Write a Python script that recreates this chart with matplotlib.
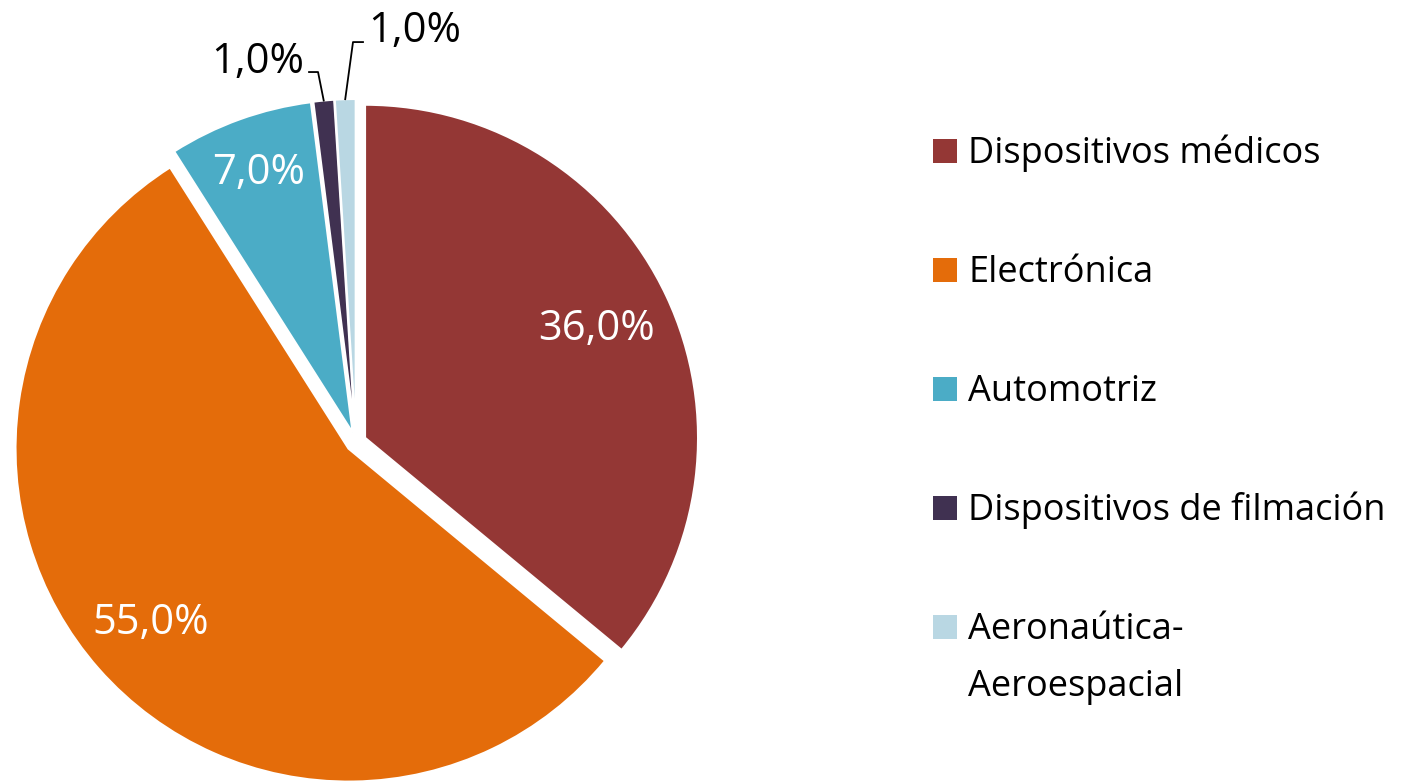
import numpy as np
import matplotlib
matplotlib.use("Agg")
import matplotlib.pyplot as plt
from matplotlib.patches import Rectangle

plt.rcParams['font.family'] = ['Open Sans', 'DejaVu Sans']

# ------------------------------------------------------------
# data
# ------------------------------------------------------------
categories = ['Dispositivos médicos', 'Electrónica', 'Automotriz',
              'Dispositivos de filmación', 'Aeronaútica-\nAeroespacial']
shares = [36.0, 55.0, 7.0, 1.0, 1.0]
colors = ['#943735', '#E46C0A', '#4BACC6', '#403151', '#B9D7E3']

# label distance (fraction of radius) for inside labels, None = outside label
label_dist = [0.77, 0.79, 0.83, None, None]
# outside labels: text position (baseline, data units with radius = 1)
# and the elbow of the leader line
outside_pos = {3: (-0.296, 1.108), 4: (0.177, 1.201)}
outside_elbow = {3: [(-0.114, 1.111), (-0.141, 1.111)],
                 4: [(-0.009, 1.201), (0.021, 1.201)]}

W, H = 1402, 781
R_PX = 333.0
CX, CY = 356.0, 442.0

fig = plt.figure(figsize=(W / 100, H / 100), dpi=100)
ax = fig.add_axes([0, 0, 1, 1])

wedges, _ = ax.pie(shares, colors=colors, startangle=90, counterclock=False,
                   explode=[0.03] * len(shares), radius=1.0,
                   wedgeprops=dict(edgecolor='white', linewidth=1.5))

# pie() sets its own limits, so fix them afterwards (1 unit = R_PX pixels)
ax.set_xlim(-CX / R_PX, (W - CX) / R_PX)
ax.set_ylim(-(H - CY) / R_PX, CY / R_PX)
ax.set_aspect('equal')
ax.axis('off')

for i, (w, val) in enumerate(zip(wedges, shares)):
    txt = f'{val:.1f}%'.replace('.', ',')
    mid = np.deg2rad((w.theta1 + w.theta2) / 2)
    cx, cy = w.center
    if label_dist[i] is not None:
        d = label_dist[i]
        ax.text(cx + d * np.cos(mid), cy + d * np.sin(mid), txt,
                color='white', fontsize=30, ha='center', va='center')
    else:
        # leader line from the outer edge of the slice to the label
        ex, ey = cx + np.cos(mid), cy + np.sin(mid)
        pts = [(ex, ey)] + outside_elbow[i]
        ax.plot([p[0] for p in pts], [p[1] for p in pts], color='black', lw=1.3)
        lx, ly = outside_pos[i]
        ax.text(lx, ly, txt, color='black', fontsize=30,
                ha='center', va='baseline')

# legend (drawn by hand so the swatch sits on the first text line)
leg_x, leg_y0, leg_step = 933, 151, 119
sw = 24
line_gap = 57
for i, (lab, col) in enumerate(zip(categories, colors)):
    yc = leg_y0 + i * leg_step
    fig.patches.append(Rectangle((leg_x / W, 1 - (yc + sw / 2) / H), sw / W, sw / H,
                                 transform=fig.transFigure, facecolor=col,
                                 edgecolor='none'))
    for k, line in enumerate(lab.split('\n')):
        fig.text((leg_x + 35) / W, 1 - (yc + 12 + k * line_gap) / H, line,
                 fontsize=26, ha='left', va='baseline',
                 transform=fig.transFigure)

fig.savefig('out.png', dpi=100)
